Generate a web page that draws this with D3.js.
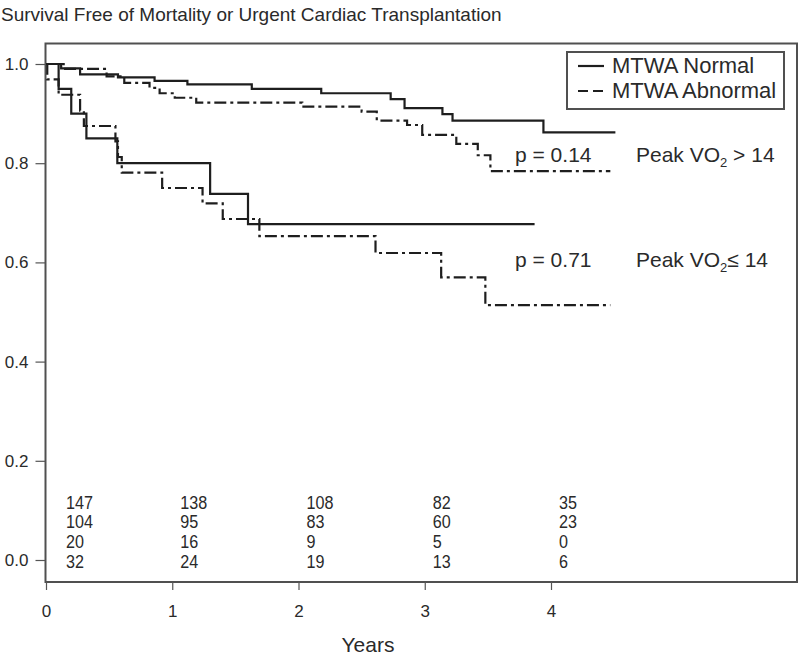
<!DOCTYPE html>
<html><head><meta charset="utf-8">
<script src="https://cdn.jsdelivr.net/npm/d3@7/dist/d3.min.js"></script>
<style>
body{margin:0;background:#fff;}
svg{display:block;font-family:"Liberation Sans",Arial,sans-serif;}
</style></head>
<body>
<svg id="c" width="800" height="656"></svg>
<script>
// ---- data ----
const title = "Survival Free of Mortality or Urgent Cardiac Transplantation";
const xTicks = [0, 1, 2, 3, 4];
const yTicks = [0.0, 0.2, 0.4, 0.6, 0.8, 1.0];

// Peak VO2 > 14, MTWA Normal
const hiNormT = [0, 0.12, 0.27, 0.57, 0.86, 1.12, 1.63, 2.18, 2.73, 2.84, 3.14, 3.22, 3.94];
const hiNormS = [1.0, 0.991, 0.979, 0.973, 0.966, 0.959, 0.950, 0.941, 0.929, 0.911, 0.899, 0.886, 0.862];
const hiNormEnd = 4.51;
// Peak VO2 > 14, MTWA Abnormal
const hiAbnT = [0, 0.14, 0.48, 0.62, 0.82, 0.90, 1.02, 1.19, 2.03, 2.50, 2.62, 2.86, 2.98, 3.25, 3.42, 3.52];
const hiAbnS = [1.0, 0.990, 0.975, 0.962, 0.952, 0.941, 0.932, 0.922, 0.914, 0.904, 0.886, 0.877, 0.857, 0.839, 0.816, 0.784];
const hiAbnEnd = 4.47;
// Peak VO2 <= 14, MTWA Normal
const loNormT = [0, 0.10, 0.20, 0.32, 0.565, 1.30, 1.60];
const loNormS = [1.0, 0.95, 0.90, 0.85, 0.80, 0.738, 0.677];
const loNormEnd = 3.87;
// Peak VO2 <= 14, MTWA Abnormal
const loAbnT = [0, 0.01, 0.10, 0.27, 0.30, 0.55, 0.57, 0.60, 0.92, 1.24, 1.40, 1.69, 2.61, 3.13, 3.48];
const loAbnS = [1.0, 0.969, 0.938, 0.906, 0.875, 0.844, 0.8125, 0.781, 0.750, 0.719, 0.6875, 0.653, 0.619, 0.570, 0.514];
const loAbnEnd = 4.47;

// numbers at risk (rows) at years 0..4
const riskTimes = [0, 1, 2, 3, 4];
const riskHiNorm = [147, 138, 108, 82, 35];
const riskHiAbn = [104, 95, 83, 60, 23];
const riskLoNorm = [20, 16, 9, 5, 0];
const riskLoAbn = [32, 24, 19, 13, 6];

const legendLabels = ["MTWA Normal", "MTWA Abnormal"];
const pLabels = ["p = 0.14", "p = 0.71"];
const pY = [0.802, 0.591];

// ---- layout ----
const svg = d3.select("#c");
const ink = "#1e1e1e";
const txt = "#2a2a2a";
const frame = {l: 45.5, t: 43.5, r: 797, b: 582};
const x = d3.scaleLinear().domain([0, 4]).range([46, 551]);
const y = d3.scaleLinear().domain([0, 1]).range([560, 64]);

svg.append("text").attr("x", 1).attr("y", 21).style("font-size", "19px")
  .attr("fill", txt).text(title);

svg.append("rect").attr("x", frame.l).attr("y", frame.t)
  .attr("width", frame.r - frame.l).attr("height", frame.b - frame.t)
  .attr("fill", "none").attr("stroke", "#505050").attr("stroke-width", 2);

// y axis
const yAxis = d3.axisLeft(y).tickValues(yTicks).tickFormat(d3.format(".1f")).tickSize(10).tickPadding(7);
const gy = svg.append("g").attr("transform", `translate(${frame.l},0)`).call(yAxis);
gy.attr("font-size", null).attr("font-family", null);
gy.select(".domain").remove();
gy.selectAll("line").attr("stroke", "#555").attr("stroke-width", 1.2);
gy.selectAll("text").style("font-size", "17px").attr("fill", txt);

// x axis
const xAxis = d3.axisBottom(x).tickValues(xTicks).tickFormat(d3.format("d")).tickSize(8).tickPadding(15);
const gx = svg.append("g").attr("transform", `translate(0,${frame.b})`).call(xAxis);
gx.attr("font-size", null).attr("font-family", null);
gx.select(".domain").remove();
gx.selectAll("line").attr("stroke", "#555").attr("stroke-width", 1.2);
gx.selectAll("text").style("font-size", "17px").attr("fill", txt);

svg.append("text").attr("x", 368).attr("y", 652).attr("text-anchor", "middle")
  .style("font-size", "21px").attr("fill", txt).text("Years");

// curves
const line = d3.line().x(d => x(d[0])).y(d => y(d[1])).curve(d3.curveStepAfter);
function pts(T, S, end) {
  const p = T.map((t, i) => [t, S[i]]);
  p.push([end, S[S.length - 1]]);
  return p;
}
const dashCurve = "12,4,3,4";
const curves = [
  {p: pts(hiNormT, hiNormS, hiNormEnd), dash: null},
  {p: pts(hiAbnT, hiAbnS, hiAbnEnd), dash: dashCurve},
  {p: pts(loNormT, loNormS, loNormEnd), dash: null},
  {p: pts(loAbnT, loAbnS, loAbnEnd), dash: dashCurve}
];
curves.forEach(c => {
  svg.append("path").attr("d", line(c.p)).attr("fill", "none")
    .attr("stroke", ink).attr("stroke-width", 2.2)
    .attr("stroke-dasharray", c.dash);
});

// legend
const lg = svg.append("g");
lg.append("rect").attr("x", 567).attr("y", 52).attr("width", 217).attr("height", 57)
  .attr("fill", "#fff").attr("stroke", "#505050").attr("stroke-width", 2);
legendLabels.forEach((lab, i) => {
  const ly = 66 + i * 25;
  lg.append("line").attr("x1", 578).attr("x2", 604).attr("y1", ly).attr("y2", ly)
    .attr("stroke", ink).attr("stroke-width", 2.2)
    .attr("stroke-dasharray", i === 1 ? "10,5" : null);
  lg.append("text").attr("x", 612).attr("y", ly + 7).style("font-size", "22px")
    .attr("fill", txt).text(lab);
});

// annotations
const vo = [{p: pLabels[0], rel: " > 14"}, {p: pLabels[1], rel: "≤ 14"}];
vo.forEach((v, i) => {
  const ty = y(pY[i]);
  svg.append("text").attr("x", 515).attr("y", ty).style("font-size", "21px")
    .attr("fill", txt).text(v.p);
  const t = svg.append("text").attr("x", 636).attr("y", ty).style("font-size", "21px").attr("fill", txt);
  t.append("tspan").text("Peak VO");
  t.append("tspan").style("font-size", "13px").attr("dy", 5).text("2");
  t.append("tspan").attr("dy", -5).text(v.rel);
});

// numbers at risk
const riskRows = [riskHiNorm, riskHiAbn, riskLoNorm, riskLoAbn];
riskRows.forEach((row, r) => {
  row.forEach((v, i) => {
    const tx = x(riskTimes[i]) + (i === 0 ? 20 : 8);
    const ty = 508.5 + r * 19.7;
    svg.append("text").attr("transform", `translate(${tx},${ty}) scale(0.85,1)`)
      .style("font-size", "19px").attr("fill", txt)
      .text(v);
  });
});
</script>
</body></html>
